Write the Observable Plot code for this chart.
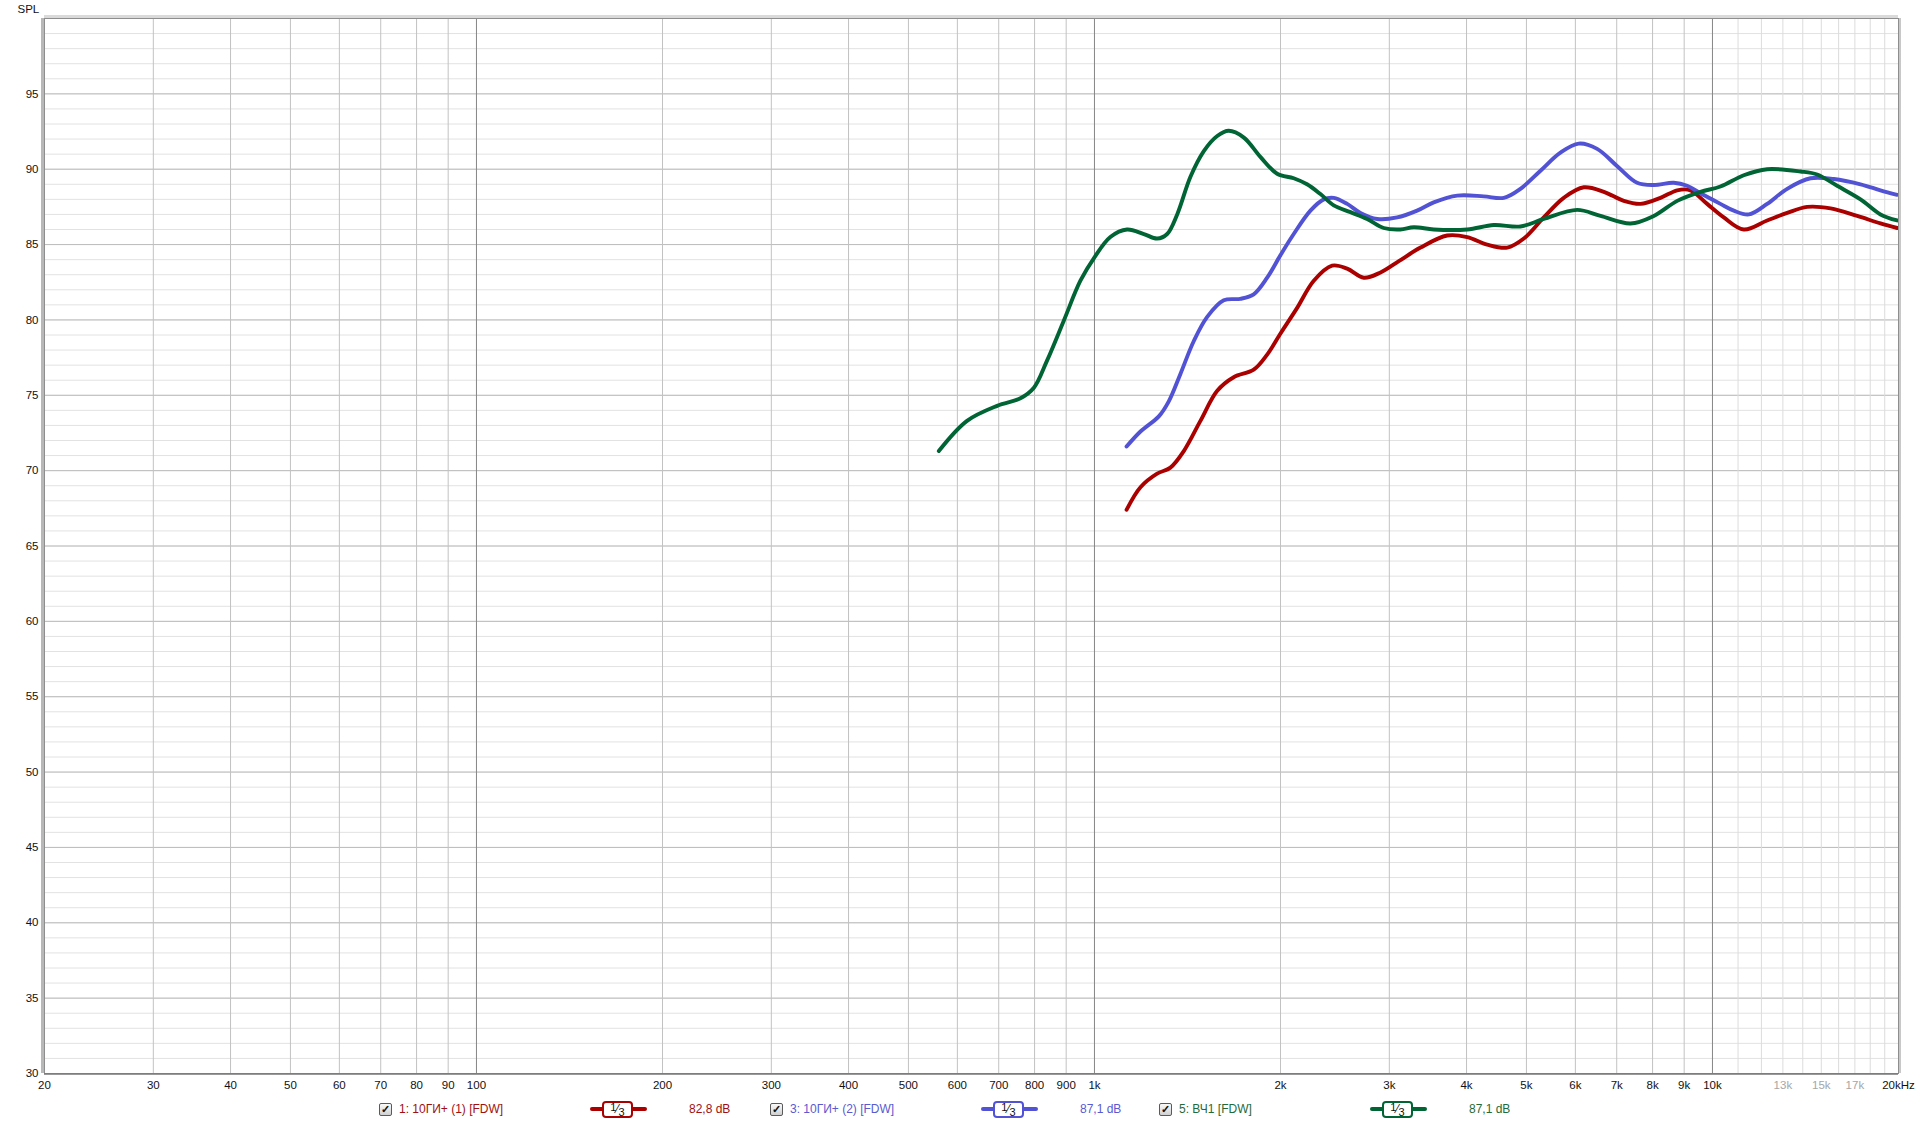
<!DOCTYPE html>
<html><head><meta charset="utf-8">
<script src="https://cdn.jsdelivr.net/npm/d3@7"></script>
<script src="https://cdn.jsdelivr.net/npm/@observablehq/plot@0.6"></script>
<style>
body{margin:0;background:#fff;font-family:"Liberation Sans",Arial,sans-serif;}
#wrap{position:relative;width:1920px;height:1124px;overflow:hidden;}
#legend{position:absolute;left:0;top:1095px;width:1920px;height:29px;font-size:12px;}
.cb{position:absolute;top:8px;width:11px;height:11px;border:1px solid #5a5a5a;border-radius:2px;background:linear-gradient(#fafafa,#d0d0d0);font-size:11px;line-height:11px;text-align:center;color:#111;font-weight:bold;}
.nm{position:absolute;top:7px;white-space:nowrap;line-height:14px;}
.ln{position:absolute;top:12px;height:4px;border-radius:2px;}
.bx{position:absolute;top:6px;height:13px;border:2px solid;border-radius:4px;background:#fff;font-size:12px;line-height:13px;text-align:center;color:#111;}
.bx sup{font-size:11px;vertical-align:2px;line-height:0;} .bx sub{font-size:11px;vertical-align:-3px;line-height:0;}
</style></head><body>
<div id="wrap"><div id="chart"></div><div id="legend"></div></div>
<script>
// ---- data ----
const seriesNames = ["1: 10ГИ+ (1) [FDW]", "3: 10ГИ+ (2) [FDW]", "5: ВЧ1 [FDW]"];
const seriesColors = ["#aa0000", "#5252d4", "#006434"];
const seriesTextColors = ["#a01010", "#5a5ad0", "#1f6b3c"];
const seriesLevels = ["82,8 dB", "87,1 dB", "87,1 dB"];

const redFreq = [1127,1187,1263,1327,1395,1484,1580,1680,1810,1903,2000,2128,2264,2424,2564,2728,2903,3108,3370,3722,4010,4320,4655,4952,5334,5746,6192,6672,7187,7647,8240,8769,9213,9804,10432,11236,12260,13210,14230,15530,17150,18700,19900];
const redSpl  = [67.4,68.9,69.8,70.2,71.3,73.3,75.3,76.2,76.7,77.7,79.1,80.8,82.6,83.6,83.4,82.8,83.15,83.9,84.8,85.6,85.5,85.0,84.8,85.4,86.8,88.1,88.8,88.5,87.9,87.7,88.1,88.6,88.6,87.7,86.8,86.0,86.6,87.1,87.5,87.4,86.9,86.4,86.1];

const blueFreq = [1127,1187,1271,1319,1377,1448,1522,1619,1722,1810,1903,2000,2101,2236,2350,2439,2564,2694,2867,3089,3327,3540,3864,4266,4596,4890,5269,5675,6076,6507,7013,7552,8035,8659,9100,9564,10300,10828,11452,12260,13210,14410,15720,17360,18700,19900];
const blueSpl  = [71.6,72.6,73.6,74.6,76.4,78.6,80.2,81.3,81.4,81.7,82.8,84.3,85.7,87.25,88.0,88.1,87.7,87.1,86.7,86.8,87.25,87.8,88.25,88.2,88.1,88.7,89.9,91.1,91.7,91.35,90.2,89.1,88.95,89.1,88.9,88.4,87.7,87.25,87.0,87.7,88.7,89.4,89.35,89.0,88.6,88.3];

const greenFreq = [560,622,696,759,798,838,892,949,1000,1061,1129,1202,1263,1311,1361,1430,1503,1580,1649,1745,1857,1975,2101,2208,2321,2439,2596,2762,2938,3127,3287,3540,4010,4428,4890,5334,6040,6590,7368,8035,8769,9564,10300,11236,12260,13880,14770,15910,17360,18700,19900];
const greenSpl  = [71.3,73.3,74.3,74.8,75.5,77.3,79.95,82.6,84.15,85.5,86.0,85.7,85.4,85.7,87.0,89.5,91.2,92.2,92.55,92.1,90.8,89.7,89.4,89.0,88.35,87.6,87.15,86.7,86.1,86.0,86.15,86.0,86.0,86.3,86.2,86.7,87.3,86.9,86.4,86.9,87.9,88.5,88.85,89.6,90.0,89.85,89.65,88.9,88.0,87.0,86.6];

const yMinorTicks = d3.range(30, 101, 1);
const yMajorTicks = [30,35,40,45,50,55,60,65,70,75,80,85,90,95];
const xGridTicks = [30,40,50,60,70,80,90,200,300,400,500,600,700,800,900,2000,3000,4000,5000,6000,7000,8000,9000];
const xDecadeTicks = [100,1000,10000];
const xHighTicks = [11000,12000,13000,14000,15000,16000,17000,18000,19000];
const xTickValues = [20,30,40,50,60,70,80,90,100,200,300,400,500,600,700,800,900,1000,2000,3000,4000,5000,6000,7000,8000,9000,10000,20000];
const xTickLabels = ["20","30","40","50","60","70","80","90","100","200","300","400","500","600","700","800","900","1k","2k","3k","4k","5k","6k","7k","8k","9k","10k","20kHz"];
const xGreyTickValues = [13000,15000,17000];
const xGreyTickLabels = ["13k","15k","17k"];

// ---- build table ----
const rows = [];
[[redFreq, redSpl], [blueFreq, blueSpl], [greenFreq, greenSpl]].forEach(([fs, vs], i) => {
  fs.forEach((f, j) => rows.push({series: seriesNames[i], f, spl: vs[j]}));
});
const xTicks = xTickValues.map((v, i) => ({v, label: xTickLabels[i]}));
const xGreyTicks = xGreyTickValues.map((v, i) => ({v, label: xGreyTickLabels[i]}));

const chart = Plot.plot({
  width: 1920, height: 1095,
  marginLeft: 44, marginRight: 22, marginTop: 18, marginBottom: 22,
  x: {type: "log", domain: [20, 20000], axis: null},
  y: {domain: [30, 100], axis: null},
  color: {domain: seriesNames, range: seriesColors},
  style: {fontFamily: '"Liberation Sans", Arial, sans-serif', fontSize: "11.5px", color: "#111", background: "#fff", overflow: "visible"},
  marks: [
    Plot.ruleY(yMinorTicks, {stroke: "#e2e2e2", strokeWidth: 1}),
    Plot.ruleY(yMajorTicks, {stroke: "#bcbcbc", strokeWidth: 1}),
    Plot.ruleX(xHighTicks, {stroke: "#dcdcdc", strokeWidth: 1}),
    Plot.ruleX(xGridTicks, {stroke: "#c2c2c2", strokeWidth: 1}),
    Plot.ruleX(xDecadeTicks, {stroke: "#858585", strokeWidth: 1}),
    Plot.line(rows, {x: "f", y: "spl", z: "series", stroke: "series", strokeWidth: 3.9, curve: "catmull-rom"}),
    Plot.frame({stroke: "#8e8e8e", strokeWidth: 1}),
    Plot.ruleX([20], {stroke: "#b8b8b8", strokeWidth: 3, dx: -2}),
    Plot.ruleY([100], {stroke: "#dadada", strokeWidth: 3, dy: -2}),
    Plot.ruleX([20000], {stroke: "#c8c8c8", strokeWidth: 2, dx: 1.5}),
    Plot.ruleY([30], {stroke: "#777", strokeWidth: 1.5, dy: 0.5}),
    Plot.text(yMajorTicks, {y: d => d, text: d => String(d), frameAnchor: "left", textAnchor: "end", dx: -6, fill: "#111"}),
    Plot.text(xTicks, {x: "v", text: "label", frameAnchor: "bottom", lineAnchor: "top", dy: 7, fill: "#111"}),
    Plot.text(xGreyTicks, {x: "v", text: "label", frameAnchor: "bottom", lineAnchor: "top", dy: 7, fill: "#a6a6a6"}),
    Plot.text(["SPL"], {frameAnchor: "top-left", lineAnchor: "middle", dx: -27, dy: -9.5, textAnchor: "start", fill: "#111"})
  ]
});
document.getElementById("chart").appendChild(chart);

// ---- legend ----
const legend = document.getElementById("legend");
const legendX = [379, 770, 1159];
seriesNames.forEach((name, i) => {
  const x0 = legendX[i];
  const c = seriesColors[i];
  legend.insertAdjacentHTML("beforeend",
    `<div class="cb" style="left:${x0}px">✓</div>` +
    `<div class="nm" style="left:${x0 + 20}px;color:${seriesTextColors[i]}">${name}</div>` +
    `<div class="ln" style="left:${x0 + 211}px;width:57px;background:${c}"></div>` +
    `<div class="bx" style="left:${x0 + 223}px;width:27px;border-color:${c}"><sup>1</sup>⁄<sub>3</sub></div>` +
    `<div class="nm" style="left:${x0 + 310}px;color:${seriesTextColors[i]}">${seriesLevels[i]}</div>`);
});
</script>
</body></html>
